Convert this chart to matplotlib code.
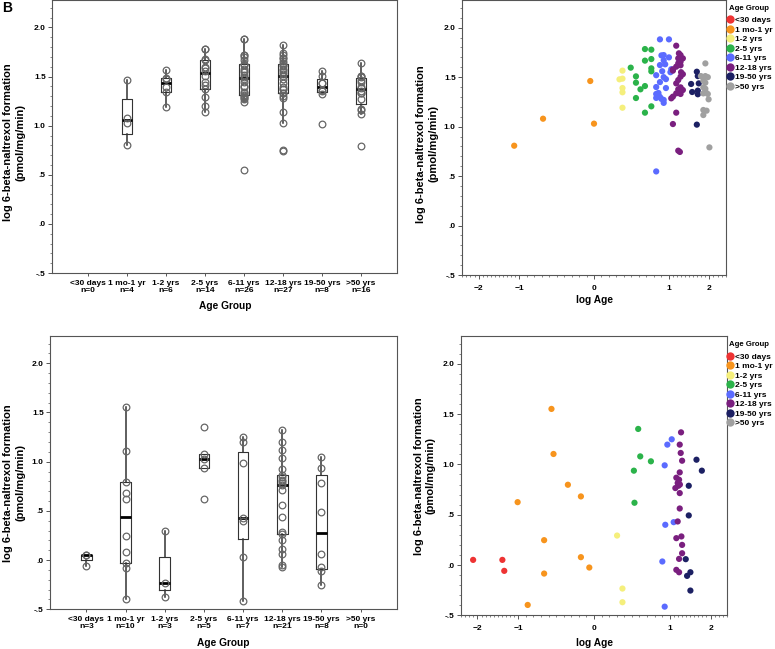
import numpy as np
import matplotlib
matplotlib.use('Agg')
import matplotlib.pyplot as plt
from matplotlib.ticker import MultipleLocator, FuncFormatter
from matplotlib.lines import Line2D

plt.rcParams['font.family'] = ['Liberation Sans', 'DejaVu Sans']
plt.rcParams['font.weight'] = 'bold'

groups = ['<30 days', '1 mo-1 yr', '1-2 yrs', '2-5 yrs', '6-11 yrs', '12-18 yrs', '19-50 yrs', '>50 yrs']
colors = ['#ee3333', '#f7941d', '#f5ef7c', '#2bb34a', '#5b6bff', '#7a1f7f', '#1c2063', '#a0a0a0']

# top row: log age (years) and log 6-beta-naltrexol formation, per age group
top_age = [
    [],
    [-1.12, -0.68, -0.05, 0.0],
    [0.34, 0.38, 0.38, 0.38, 0.38, 0.38],
    [0.68, 0.765, 0.68, 0.765, 0.49, 0.765, 0.765, 0.56, 0.56, 0.62, 0.68, 0.56, 0.765, 0.68],
    [0.88, 1.0, 0.90, 0.93, 1.0, 0.93, 0.88, 1.056, 1.037, 0.83, 0.93, 0.96, 0.88, 0.83, 0.96,
     0.83, 0.86, 0.88, 0.83, 0.90, 0.93, 0.86, 0.93, 0.83, 0.95, 0.91],
    [1.18, 1.246, 1.287, 1.344, 1.23, 1.287, 1.23, 1.18, 1.287, 1.098, 1.098, 1.287, 1.344, 1.23,
     1.18, 1.287, 1.344, 1.23, 1.18, 1.287, 1.098, 1.057, 1.18, 1.098, 1.23, 1.27, 1.30],
    [1.548, 1.689, 1.713, 1.737, 1.574, 1.713, 1.713, 1.689],
    [1.90, 1.79, 1.90, 1.96, 1.85, 1.90, 1.85, 1.90, 1.96, 1.85, 1.98, 1.85, 1.93, 1.85, 2.0, 1.90],
]
top_val = [
    [],
    [0.807, 1.080, 1.461, 1.030],
    [1.478, 1.485, 1.566, 1.390, 1.347, 1.191],
    [1.784, 1.778, 1.667, 1.683, 1.596, 1.589, 1.559, 1.508, 1.444, 1.377, 1.410, 1.289, 1.205, 1.141],
    [1.882, 1.882, 1.720, 1.723, 1.700, 1.670, 1.622, 1.580, 1.550, 1.520, 1.500, 1.480, 1.450, 1.400,
     1.390, 1.330, 1.310, 1.300, 1.290, 1.280, 1.270, 1.340, 1.240, 0.547, 1.630, 1.560],
    [1.818, 1.741, 1.723, 1.690, 1.690, 1.656, 1.640, 1.606, 1.620, 1.579, 1.566, 1.505, 1.530, 1.471,
     1.437, 1.397, 1.370, 1.377, 1.336, 1.330, 1.303, 1.286, 1.141, 1.026, 0.757, 0.744, 1.550],
    [1.431, 1.555, 1.511, 1.437, 1.350, 1.364, 1.327, 1.020],
    [1.639, 1.511, 1.511, 1.500, 1.464, 1.444, 1.397, 1.383, 1.330, 1.336, 1.276, 1.168, 1.161, 1.117,
     0.790, 1.356],
]

# bottom row
bot_age = [
    [-2.106, -1.39, -1.344],
    [-0.562, -0.535, -0.345, -0.173, -1.017, -0.659, -0.173, -0.062, -0.659, -0.876],
    [0.305, 0.376, 0.376],
    [0.584, 0.611, 0.752, 0.527, 0.535],
    [1.05, 0.969, 0.934, 1.098, 0.942, 0.903, 0.934],
    [1.278, 1.246, 1.27, 1.304, 1.246, 1.163, 1.23, 1.196, 1.213, 1.139, 1.246, 1.246, 1.196, 1.163,
     1.287, 1.304, 1.304, 1.23, 1.163, 1.23, 1.25],
    [1.656, 1.787, 1.467, 1.467, 1.393, 1.507, 1.426, 1.507],
    [],
]
bot_val = [
    [0.051, 0.051, -0.058],
    [1.552, 1.104, 0.798, 0.682, 0.625, 0.247, 0.078, -0.025, -0.085, -0.397],
    [0.293, -0.234, -0.370],
    [1.353, 1.080, 1.031, 0.938, 0.619],
    [1.250, 1.197, 0.991, 0.426, 0.400, 0.035, -0.414],
    [1.319, 1.197, 1.114, 1.037, 0.921, 0.868, 0.848, 0.815, 0.788, 0.765, 0.715, 0.562, 0.433, 0.267,
     0.284, 0.200, 0.117, 0.061, -0.048, -0.072, 0.800],
    [1.047, 0.938, 0.788, 0.493, 0.058, -0.072, -0.108, -0.254],
    [],
]

EDGE = '#555555'


def spss_fmt(v, pos):
    s = f"{v:.1f}"
    if s.startswith('0.'):
        s = s[1:]
    elif s.startswith('-0.'):
        s = '-' + s[2:]
    return s


def tukey(vals):
    # SPSS boxplots use Tukey hinges
    v = np.sort(np.asarray(vals, float))
    n = len(v)
    half = (n + 1) // 2
    q1 = np.median(v[:half])
    q3 = np.median(v[n - half:])
    iqr = q3 - q1
    return dict(med=np.median(v), q1=q1, q3=q3,
                whislo=v[v >= q1 - 1.5 * iqr].min(),
                whishi=v[v <= q3 + 1.5 * iqr].max(), fliers=[])


def style_y(ax):
    ax.set_ylim(-0.5, 2.28)
    ax.yaxis.set_major_locator(MultipleLocator(0.5))
    ax.yaxis.set_minor_locator(MultipleLocator(0.1))
    ax.yaxis.set_major_formatter(FuncFormatter(spss_fmt))
    for s in ax.spines.values():
        s.set_color(EDGE)
        s.set_linewidth(0.8)
    ax.tick_params(axis='both', which='major', length=3, width=0.7, color=EDGE, labelsize=6, pad=1.5)
    ax.tick_params(axis='both', which='minor', length=1.5, width=0.5, color=EDGE)


def box_panel(ax, vals):
    stats, pos = [], []
    for i, v in enumerate(vals):
        if len(v):
            stats.append(tukey(v))
            pos.append(i + 1)
    ax.bxp(stats, positions=pos, widths=0.27, showcaps=False, showfliers=False,
           boxprops=dict(color='#333333', lw=0.8),
           whiskerprops=dict(color='#333333', lw=1.1),
           medianprops=dict(color='black', lw=2))
    for i, v in enumerate(vals):
        if len(v):
            ax.plot(np.full(len(v), i + 1), v, 'o', mfc='none', mec='#666666', ms=4.8, mew=0.9, zorder=4)
    ax.set_xlim(0.07, 8.93)
    ax.set_xticks(range(1, 9))
    ax.set_xticklabels([f"{g}\nn={len(v)}" for g, v in zip(groups, vals)], fontsize=5.6, linespacing=0.95)
    style_y(ax)
    ax.tick_params(axis='x', which='major', length=2, pad=3)
    ax.tick_params(axis='x', which='minor', bottom=False)


def fwd(x):
    x = np.asarray(x, float)
    a = np.abs(x)
    return np.where(a <= 1, x, np.sign(x) * (1 + (a - 1) * 0.54))


def inv(y):
    y = np.asarray(y, float)
    a = np.abs(y)
    return np.where(a <= 1, y, np.sign(y) * (1 + (a - 1) / 0.54))


def scatter_panel(ax, ages, vals, title_y, legend_top):
    for a, v, c in zip(ages, vals, colors):
        if len(v):
            ax.scatter(a, v, s=20, color=c, edgecolors='none', zorder=3)
    ax.set_xscale('function', functions=(fwd, inv))
    ax.set_xlim(-2.41, 2.41)
    ax.set_xticks([-2, -1, 0, 1, 2])
    ax.xaxis.set_minor_locator(MultipleLocator(0.1))
    style_y(ax)
    ax.tick_params(axis='x', which='major', pad=4)
    fig = ax.figure
    fig.text(729 / 775, 1 - title_y / 649, 'Age Group', ha='left', va='center', fontsize=5.6)
    handles = [Line2D([], [], marker='o', ls='none', ms=6, color=c, mew=0) for c in colors]
    ax.legend(handles, groups, loc='upper left',
              bbox_to_anchor=(727 / 775, 1 - legend_top / 649), bbox_transform=fig.transFigure,
              frameon=False, fontsize=6, handlelength=0.75, handletextpad=0.25,
              labelspacing=0.2, borderpad=0, borderaxespad=0)


fig = plt.figure(figsize=(7.75, 6.49), dpi=100)
W, H = 775, 649
ax1 = fig.add_axes([52 / W, 1 - 273 / H, 345 / W, 273 / H])
ax2 = fig.add_axes([462 / W, 1 - 275 / H, 264 / W, 275 / H])
ax3 = fig.add_axes([50 / W, 1 - 609.3 / H, 347 / W, 273.6 / H])
ax4 = fig.add_axes([460.7 / W, 1 - 615.3 / H, 266.6 / W, 279.6 / H])

box_panel(ax1, top_val)
scatter_panel(ax2, top_age, top_val, 8, 16.5)
box_panel(ax3, bot_val)
scatter_panel(ax4, bot_age, bot_val, 345, 353)

ylab = 'log 6-beta-naltrexol formation\n(pmol/mg/min)'
for (x, y) in [(14, 142.5), (427.5, 144), (14, 482.7), (425, 475.7)]:
    fig.text(x / W, 1 - y / H, ylab, rotation=90, ha='center', va='center', fontsize=8,
             linespacing=1.25)
for (x, y, t) in [(225, 306, 'Age Group'), (594, 300, 'log Age'),
                  (223, 643, 'Age Group'), (594, 642.7, 'log Age')]:
    fig.text(x / W, 1 - y / H, t, ha='center', va='center', fontsize=7.3)

fig.text(2 / W, 1 - 1 / H, 'B', ha='left', va='top', fontsize=10, fontweight='bold')

fig.savefig('out.png', dpi=100)
